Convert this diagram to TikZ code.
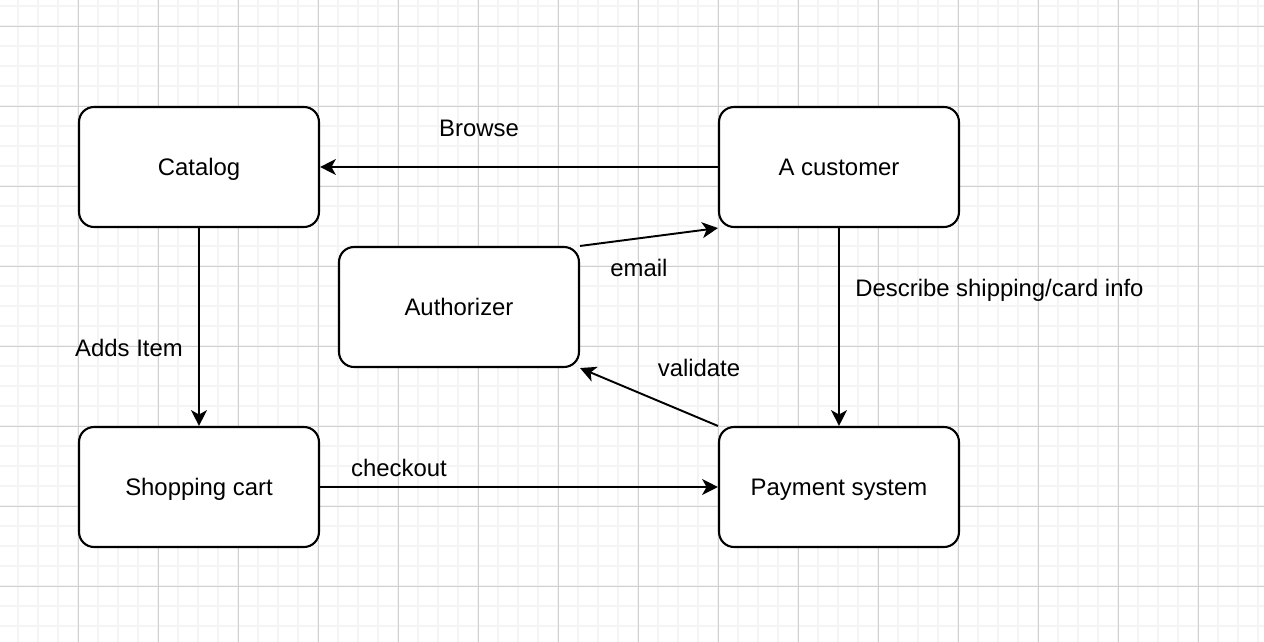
\documentclass[tikz,border=0pt]{standalone}
\usepackage{fontspec}
\setmainfont{Liberation Sans}
\usetikzlibrary{arrows.meta}
\definecolor{grigliachiara}{HTML}{F4F4F4}
\definecolor{grigliascura}{HTML}{D0D0D0}
\newcommand{\testo}{\fontsize{13.6}{16}\selectfont}
\tikzset{
    blocco/.style = {draw, line width = 1.2pt, rounded corners = 0.3cm, fill = white,
        minimum width = 4.8cm, minimum height = 2.4cm, font = \testo,
        text height = 9.7pt, text depth = 0pt},
    freccia/.style = {line width = 1.1pt, -{Stealth[length = 9pt, width = 9pt, inset = 2.5pt]}},
    etichetta/.style = {font = \testo, inner sep = 0pt, text height = 9.7pt, text depth = 0pt},
}

\begin{document}
\begin{tikzpicture}[x = 0.02cm, y = -0.02cm]
    % Sfondo
    \useasboundingbox (0,0) rectangle (1264,642);
    \fill[white] (0,0) rectangle (1264,642);
    \foreach \x in {18,38,...,1258}
        \draw[grigliachiara, line width = 1pt] (\x,0) -- (\x,642);
    \foreach \y in {6,26,...,642}
        \draw[grigliachiara, line width = 1pt] (0,\y) -- (1264,\y);
    \foreach \x in {78,158,...,1238}
        \draw[grigliascura, line width = 0.55pt] (\x,0) -- (\x,642);
    \foreach \y in {26,106,...,642}
        \draw[grigliascura, line width = 0.55pt] (0,\y) -- (1264,\y);
    % Blocchi
    \node[blocco] (catalog) at (199,167) {Catalog};
    \node[blocco] (customer) at (839,167) {A customer};
    \node[blocco] (authorizer) at (459,307) {Authorizer};
    \node[blocco] (cart) at (199,487) {Shopping cart};
    \node[blocco] (payment) at (839,487) {Payment system};
    % Frecce
    \draw[freccia] (customer) -- (catalog);
    \draw[freccia] (catalog) -- (cart);
    \draw[freccia] (cart) -- (payment);
    \draw[freccia] (customer) -- (payment);
    \draw[freccia] (authorizer.north east) -- (customer.south west);
    \draw[freccia] (payment.north west) -- (authorizer.south east);
    % Etichette
    \node[etichetta] (browse) at (479,128) {Browse};
    \node[etichetta] (adds) at (129,348) {Adds Item};
    \node[etichetta] (checkout) at (399,468) {checkout};
    \node[etichetta, anchor = west] (describe) at (855,288) {Describe shipping/card info};
    \node[etichetta] (email) at (639,268) {email};
    \node[etichetta] (validate) at (699,368) {validate};
\end{tikzpicture}
\end{document}
